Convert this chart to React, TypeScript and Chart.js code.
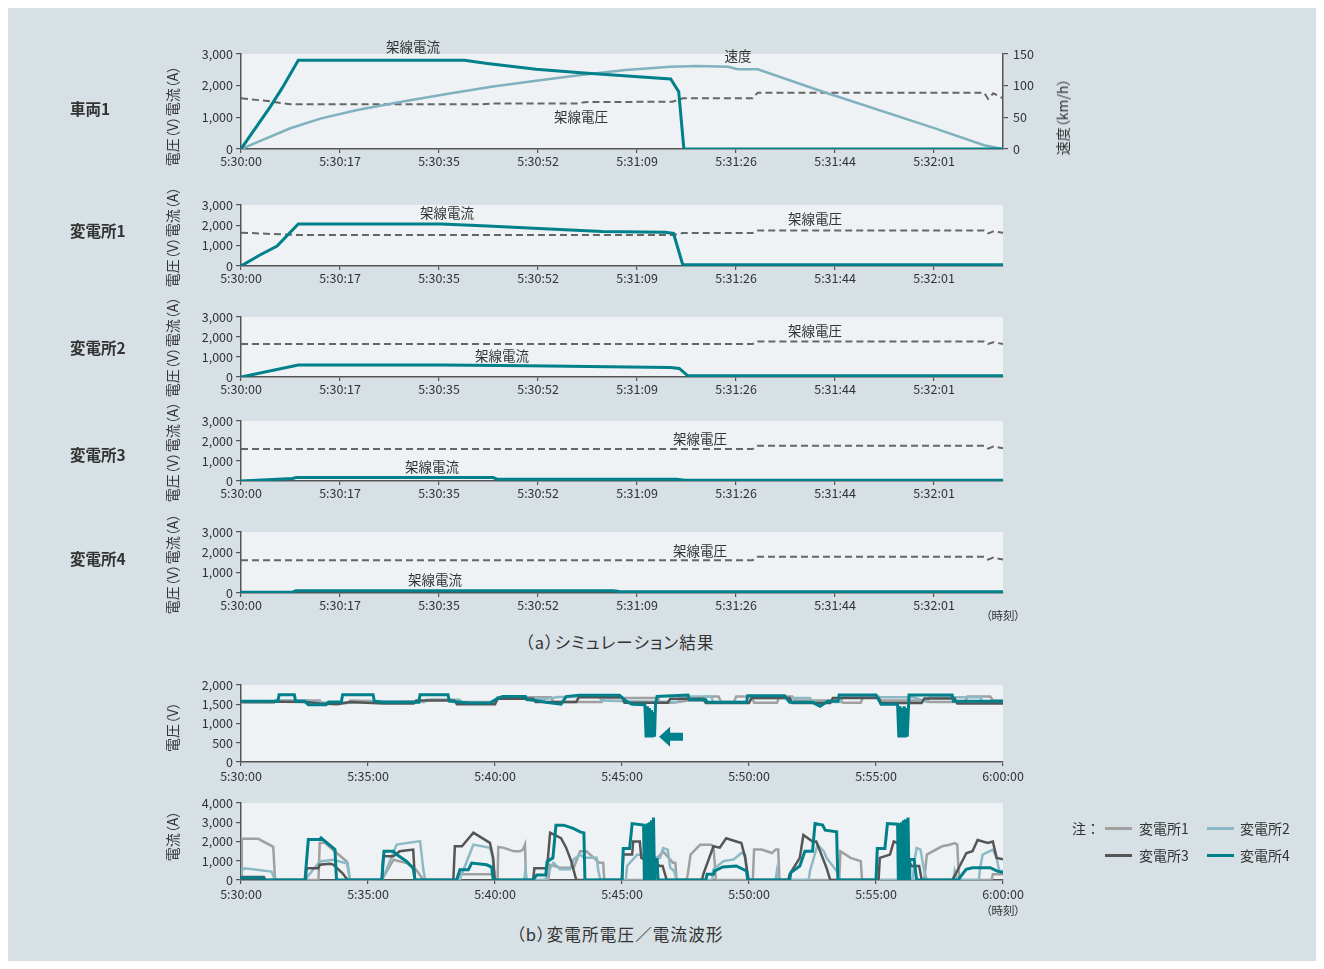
import React, { useEffect, useRef } from 'react';
import { Chart, registerables } from 'chart.js';
Chart.register(...registerables);

const FONT = '"Noto Sans CJK JP", "Noto Sans", sans-serif';
const TEXT = '#333333';
const AXIS = '#555555';
const OUTER_BG = '#d6e0e5';
const PLOT_BG = '#eef2f4';
const TEAL = '#00808a';
const SPEED_C = '#80b1bf';
const VOLT_C = '#666666';
const SS1_C = '#a0a0a0';
const SS2_C = '#8cb9c5';
const SS3_C = '#555555';
const SS4_C = TEAL;

type Pt = [number, number];

// ---- (a) simulation: x in seconds from 5:30:00 ----
const simTickSec = [0, 17.28, 34.56, 51.84, 69.12, 86.4, 103.68, 120.96];
const simTimeLabels = ['5:30:00', '5:30:17', '5:30:35', '5:30:52', '5:31:09', '5:31:26', '5:31:44', '5:32:01'];
const SIM_MAX = 133;

const vehicleCurrent: Pt[] = [[0, 0], [5.1, 1330], [7.2, 1930], [10, 2800], [39, 2800], [43, 2700], [51.5, 2520], [59.3, 2410], [68.7, 2290], [75, 2210], [76.4, 1810], [77.3, 0], [133, 0]];
const vehicleSpeed: Pt[] = [[0, 0], [8.6, 32.7], [14, 48.4], [20.3, 61.6], [28, 74.7], [35.9, 86.8], [43.7, 98.4], [51.5, 107.9], [59.3, 116.8], [67.1, 124.7], [75, 130], [79.6, 131], [85, 130], [86.7, 126], [90.2, 126], [101.7, 90], [121, 33], [129.7, 6], [133, 0]];
const vehicleVoltage: Pt[] = [[0, 1600], [4.7, 1515], [8.6, 1410], [42, 1410], [44, 1440], [59, 1440], [60, 1480], [75.3, 1494], [77.1, 1600], [89.3, 1600], [90.2, 1778], [129.7, 1778], [130.4, 1580], [131.3, 1760], [133, 1600]];

const ss1Current: Pt[] = [[0, 0], [3.3, 540], [6.3, 980], [10, 2070], [35, 2070], [43, 1970], [52, 1850], [63, 1700], [74, 1660], [75.5, 1600], [77.1, 60], [133, 60]];
const ss1Voltage: Pt[] = [[0, 1640], [10, 1520], [75.3, 1520], [77.1, 1620], [89.3, 1620], [90.2, 1740], [129.7, 1740], [130.4, 1600], [131.3, 1700], [133, 1640]];

const ss2Current: Pt[] = [[0, 0], [10, 600], [35, 600], [50, 560], [75, 480], [76.5, 430], [78, 60], [133, 60]];
const ss2Voltage: Pt[] = [[0, 1650], [89.3, 1650], [90.2, 1780], [129.7, 1780], [130.4, 1650], [131.3, 1740], [133, 1650]];

const ss3Current: Pt[] = [[0, 0], [9, 130], [9.6, 170], [44, 170], [44.7, 90], [76, 90], [77.5, 40], [133, 40]];
const ss3Voltage: Pt[] = [[0, 1600], [89.3, 1600], [90.2, 1765], [129.7, 1765], [130.4, 1620], [131.3, 1720], [133, 1640]];

const ss4Current: Pt[] = [[0, 40], [9, 40], [9.6, 110], [65, 110], [66, 70], [133, 60]];
const ss4Voltage: Pt[] = [[0, 1616], [89.3, 1616], [90.2, 1783], [129.7, 1783], [130.4, 1640], [131.3, 1740], [133, 1650]];

// ---- (b) measured waveforms: x in minutes from 5:30:00 ----
const dayTimeLabels = ['5:30:00', '5:35:00', '5:40:00', '5:45:00', '5:50:00', '5:55:00', '6:00:00'];

const wSs1Voltage: Pt[] = [[0, 1540], [1.3, 1540], [1.35, 1600], [3.1, 1600], [3.15, 1530], [4.2, 1530], [4.3, 1600], [5.6, 1580], [7.2, 1580], [7.5, 1620], [8.3, 1620], [8.5, 1560], [10.0, 1560], [10.1, 1680], [12.2, 1680], [12.3, 1560], [14.2, 1560], [14.3, 1660], [16.4, 1660], [16.5, 1540], [17.0, 1540], [17.6, 1600], [18.2, 1600], [18.3, 1700], [18.8, 1700], [18.9, 1560], [19.4, 1560], [19.5, 1700], [20.1, 1700], [20.2, 1540], [21.1, 1540], [21.2, 1700], [21.7, 1700], [21.8, 1600], [23.6, 1600], [23.7, 1540], [24.4, 1540], [24.5, 1700], [25.1, 1700], [25.2, 1600], [27.0, 1600], [27.1, 1560], [28.5, 1560], [28.6, 1700], [29.5, 1700], [29.6, 1600], [30, 1600]];
const wSs2Voltage: Pt[] = [[0, 1570], [1.3, 1570], [1.35, 1600], [2.6, 1600], [3.1, 1540], [4.3, 1540], [5.6, 1580], [7.2, 1560], [7.3, 1620], [8.6, 1620], [8.7, 1540], [10.0, 1540], [10.1, 1640], [12.0, 1640], [12.5, 1690], [14.1, 1690], [14.2, 1600], [15.2, 1580], [17.2, 1560], [17.3, 1700], [18.5, 1700], [18.6, 1560], [20.0, 1560], [20.1, 1660], [22.4, 1660], [22.5, 1560], [23.6, 1560], [23.7, 1680], [26.5, 1680], [27.0, 1560], [27.1, 1680], [29.1, 1680], [29.2, 1560], [30, 1560]];
const wSs3Voltage: Pt[] = [[0, 1580], [2.6, 1560], [3.1, 1520], [3.8, 1500], [4.3, 1560], [5.6, 1520], [6.8, 1520], [6.9, 1600], [8.4, 1600], [8.5, 1500], [10.0, 1500], [10.1, 1640], [11.5, 1640], [11.6, 1560], [13.2, 1560], [13.3, 1680], [15.0, 1680], [15.1, 1540], [16.8, 1540], [16.9, 1640], [18.2, 1640], [18.3, 1530], [20.0, 1530], [20.1, 1660], [21.6, 1660], [21.7, 1530], [23.2, 1530], [23.3, 1660], [25.1, 1660], [25.2, 1530], [26.8, 1530], [26.9, 1650], [28.1, 1650], [28.2, 1520], [30, 1520]];
const wSs4Voltage: Pt[] = [[0, 1580], [1.45, 1580], [1.5, 1750], [2.1, 1750], [2.15, 1580], [2.5, 1580], [2.65, 1490], [3.35, 1490], [3.45, 1560], [3.95, 1560], [4.0, 1750], [5.2, 1750], [5.25, 1580], [5.6, 1550], [7.0, 1550], [7.05, 1750], [8.15, 1750], [8.2, 1580], [9.0, 1530], [9.8, 1530], [10.1, 1650], [10.3, 1700], [11.2, 1700], [11.25, 1620], [11.6, 1600], [12.0, 1550], [12.6, 1500], [12.8, 1700], [13.3, 1737], [14.9, 1737], [15.2, 1560], [15.4, 1500], [15.9, 1490], [15.95, 640], [16.0, 1450], [16.04, 640], [16.08, 1400], [16.12, 640], [16.16, 1350], [16.2, 640], [16.24, 1300], [16.28, 660], [16.32, 1500], [16.38, 1700], [17.6, 1740], [17.65, 1620], [18.3, 1620], [18.35, 1550], [19.9, 1550], [19.95, 1720], [21.4, 1720], [21.6, 1550], [22.5, 1550], [22.8, 1450], [23.1, 1580], [23.5, 1580], [23.55, 1740], [25.0, 1740], [25.2, 1500], [25.85, 1500], [25.9, 640], [25.95, 1450], [25.99, 640], [26.03, 1400], [26.07, 640], [26.11, 1450], [26.15, 640], [26.19, 1400], [26.23, 660], [26.3, 1740], [28.0, 1740], [28.05, 1580], [30, 1580]];

const wSs1Current: Pt[] = [[0, 0], [0.03, 2140], [0.68, 2140], [1.27, 1720], [1.34, 0], [3.05, 0], [3.1, 1930], [3.3, 1930], [4.16, 960], [4.29, 0], [5.55, 0], [5.6, 140], [6.0, 1050], [6.52, 880], [6.9, 530], [7.18, 0], [8.5, 0], [8.55, 300], [9.9, 300], [9.95, 0], [10.1, 0], [10.13, 1720], [10.35, 1670], [10.75, 1490], [10.98, 1490], [11.1, 1580], [11.18, 1840], [11.22, 0], [12.1, 0], [12.17, 790], [12.56, 640], [13.1, 640], [13.35, 1490], [13.6, 1490], [14.1, 900], [14.26, 900], [14.3, 0], [16.35, 0], [16.4, 1150], [16.62, 1490], [17.0, 900], [17.1, 900], [17.15, 0], [17.55, 0], [17.6, 390], [17.7, 1320], [18.07, 1830], [18.5, 1830], [18.6, 1750], [18.7, 0], [20.15, 0], [20.2, 1580], [20.5, 1580], [20.9, 1400], [21.05, 1580], [21.15, 1580], [21.2, 0], [23.55, 0], [23.6, 1490], [24.0, 1150], [24.4, 980], [24.45, 0], [26.9, 0], [27.0, 1320], [27.6, 1750], [27.9, 1830], [28.1, 1920], [28.2, 1830], [28.25, 470], [28.3, 0], [29.55, 0], [29.6, 300], [30, 300]];
const wSs2Current: Pt[] = [[0, 0], [0.05, 530], [0.15, 610], [1.2, 440], [1.34, 0], [2.58, 0], [2.6, 140], [3.1, 960], [3.63, 1050], [4.09, 880], [4.2, 880], [4.29, 0], [5.55, 0], [5.6, 140], [6.13, 1840], [7.05, 2020], [7.18, 530], [7.25, 0], [8.62, 0], [8.65, 170], [9.15, 1840], [9.8, 1670], [9.9, 1200], [10.0, 0], [11.15, 0], [11.2, 530], [11.25, 0], [12.0, 0], [12.03, 260], [12.3, 900], [12.56, 560], [12.95, 560], [13.1, 1070], [13.35, 1320], [13.5, 1150], [14.0, 1150], [14.07, 470], [14.15, 0], [15.15, 0], [15.2, 730], [15.6, 1320], [16.5, 1150], [16.62, 1660], [16.8, 1580], [16.9, 640], [17.05, 470], [17.15, 0], [18.55, 0], [18.6, 560], [19.0, 980], [19.4, 1070], [19.7, 1400], [19.85, 1320], [19.9, 560], [20.0, 0], [21.05, 0], [21.1, 470], [21.15, 0], [22.35, 0], [22.4, 470], [22.7, 1830], [22.95, 1490], [23.05, 1150], [23.3, 730], [23.45, 470], [23.6, 0], [26.45, 0], [26.5, 900], [26.6, 1660], [26.75, 1580], [26.9, 470], [27.0, 0], [28.05, 0], [28.1, 470], [28.2, 0], [29.05, 0], [29.1, 640], [29.2, 1320], [29.6, 1580], [29.75, 1150], [29.85, 470], [30, 470]];
const wSs3Current: Pt[] = [[0, 0], [0.05, 150], [0.9, 150], [0.95, 0], [2.55, 0], [2.58, 610], [3.04, 610], [3.1, 790], [3.5, 840], [3.63, 800], [4.0, 350], [4.2, 0], [5.55, 0], [5.6, 1230], [6.0, 1230], [6.25, 1490], [6.78, 1580], [6.85, 0], [8.36, 0], [8.42, 1750], [8.7, 1750], [9.15, 2460], [9.8, 1930], [9.93, 1140], [9.99, 0], [11.5, 0], [11.55, 610], [12.05, 610], [12.17, 2460], [12.6, 2170], [12.8, 1680], [13.0, 980], [13.2, 0], [15.0, 0], [15.05, 1320], [15.4, 1320], [15.44, 2000], [15.7, 2000], [15.76, 1150], [16.5, 730], [16.6, 730], [16.76, 0], [18.15, 0], [18.2, 300], [18.6, 1750], [18.85, 1680], [19.1, 2170], [19.5, 2000], [19.7, 1920], [19.85, 1150], [19.98, 0], [21.55, 0], [21.6, 300], [22.0, 1150], [22.14, 2340], [22.5, 2000], [22.65, 2000], [22.9, 1150], [23.05, 640], [23.2, 0], [25.1, 0], [25.15, 1150], [25.55, 1320], [25.7, 2000], [25.85, 1920], [26.4, 730], [26.7, 730], [26.8, 0], [28.0, 0], [28.1, 220], [28.56, 1400], [28.8, 1490], [29.0, 2080], [29.4, 1920], [29.6, 2000], [29.75, 1150], [30, 1070]];
const wSs4Current: Pt[] = [[0, 0], [0.05, 120], [0.8, 120], [0.88, 0], [2.52, 0], [2.65, 2100], [3.1, 2100], [3.15, 2190], [3.7, 1580], [3.76, 0], [5.54, 0], [5.63, 1490], [6.0, 1490], [6.13, 1320], [6.52, 960], [6.78, 610], [6.85, 0], [8.49, 0], [8.62, 530], [8.95, 530], [9.08, 880], [9.67, 790], [9.87, 670], [9.93, 0], [11.5, 0], [11.64, 260], [12.0, 260], [12.05, 950], [12.28, 1150], [12.4, 2850], [12.7, 2850], [13.08, 2680], [13.35, 2500], [13.5, 2450], [13.54, 0], [15.0, 0], [15.05, 1630], [15.3, 1630], [15.4, 2930], [15.85, 2850], [15.88, 0], [15.92, 2900], [15.96, 0], [16.0, 2950], [16.04, 0], [16.08, 3000], [16.12, 0], [16.16, 3100], [16.2, 0], [16.24, 3250], [16.28, 0], [16.3, 1070], [16.38, 1070], [16.42, 0], [18.3, 0], [18.35, 300], [18.6, 300], [18.65, 470], [18.97, 680], [19.5, 730], [19.9, 470], [19.95, 0], [21.6, 0], [21.65, 390], [22.0, 730], [22.2, 1490], [22.5, 1490], [22.6, 2930], [22.9, 2850], [23.0, 2590], [23.45, 2500], [23.5, 0], [25.0, 0], [25.05, 1630], [25.35, 1630], [25.45, 2930], [25.85, 2900], [25.88, 0], [25.92, 2950], [25.96, 0], [26.0, 3000], [26.04, 0], [26.08, 3100], [26.12, 0], [26.16, 3150], [26.2, 0], [26.26, 3250], [26.3, 0], [26.33, 1070], [26.5, 1070], [26.6, 0], [28.25, 0], [28.3, 130], [28.55, 560], [28.8, 640], [29.5, 640], [29.75, 470], [30, 390]];

const arrowTip: Pt = [16.46, 657];
const arrowTailX = 17.4;

// ---- layout ----
const CANVAS_W = 1324;
const PAD_LEFT = 150;
const Y_AXIS_W = 91;
const RIGHT_AXIS_W = 40;
const PLOT_RIGHT = 1003;
const PAD_TOP = 14;
const X_AXIS_H = 24;

const toXY = (a: Pt[]) => a.map(([x, y]) => ({ x, y }));
const fmt = (v: number) => Number(v).toLocaleString('en-US');

const plotBg = {
  id: 'plotBg',
  beforeDraw(chart: any) {
    const { ctx, chartArea } = chart;
    ctx.save();
    ctx.fillStyle = PLOT_BG;
    ctx.fillRect(chartArea.left, chartArea.top, chartArea.right - chartArea.left, chartArea.bottom - chartArea.top);
    ctx.restore();
  },
};

const arrowPlugin = {
  id: 'arrowMark',
  afterDatasetsDraw(chart: any) {
    const { ctx, scales } = chart;
    const tx = scales.x.getPixelForValue(arrowTip[0]);
    const ty = scales.y.getPixelForValue(arrowTip[1]);
    const ex = scales.x.getPixelForValue(arrowTailX);
    ctx.save();
    ctx.fillStyle = TEAL;
    ctx.beginPath();
    ctx.moveTo(tx, ty);
    ctx.lineTo(tx + 11, ty - 10);
    ctx.lineTo(tx + 11, ty - 4);
    ctx.lineTo(ex, ty - 4);
    ctx.lineTo(ex, ty + 4);
    ctx.lineTo(tx + 11, ty + 4);
    ctx.lineTo(tx + 11, ty + 10);
    ctx.closePath();
    ctx.fill();
    ctx.restore();
  },
};

const tickFont = { family: FONT, size: 12.5 };

function yScale(max: number, step: number) {
  return {
    type: 'linear',
    position: 'left',
    min: 0,
    max,
    ticks: { stepSize: step, color: TEXT, font: tickFont, padding: 3, callback: (v: any) => fmt(v) },
    grid: { drawOnChartArea: false, drawTicks: true, tickLength: 5, color: AXIS, lineWidth: 1.2 },
    border: { display: true, color: AXIS, width: 1.5 },
    afterFit: (s: any) => { s.width = Y_AXIS_W; },
  };
}

function simXScale() {
  return {
    type: 'linear',
    min: 0,
    max: SIM_MAX,
    afterBuildTicks: (s: any) => { s.ticks = simTickSec.map((v) => ({ value: v })); },
    ticks: { autoSkip: false, maxRotation: 0, padding: 1, color: TEXT, font: tickFont, callback: (_v: any, i: number) => simTimeLabels[i] },
    grid: { drawOnChartArea: false, drawTicks: true, tickLength: 4, color: AXIS, lineWidth: 1.2 },
    border: { display: true, color: AXIS, width: 1.5 },
    afterFit: (s: any) => { s.height = X_AXIS_H; },
  };
}

function dayXScale() {
  return {
    type: 'linear',
    min: 0,
    max: 30,
    ticks: { stepSize: 5, autoSkip: false, maxRotation: 0, padding: 3, color: TEXT, font: tickFont, callback: (_v: any, i: number) => dayTimeLabels[i] },
    grid: { drawOnChartArea: false, drawTicks: true, tickLength: 4, color: AXIS, lineWidth: 1.2 },
    border: { display: true, color: AXIS, width: 1.5 },
    afterFit: (s: any) => { s.height = X_AXIS_H; },
  };
}

function lineDs(label: string, data: Pt[], color: string, width: number, extra: any = {}) {
  return { label, data: toXY(data), borderColor: color, backgroundColor: color, borderWidth: width, pointRadius: 0, fill: false, tension: 0, ...extra };
}

function baseConfig(datasets: any[], scales: any, right: boolean, plugins: any[] = []) {
  return {
    type: 'line',
    data: { datasets },
    options: {
      responsive: false,
      maintainAspectRatio: false,
      animation: false,
      events: [],
      layout: { padding: { left: PAD_LEFT, right: CANVAS_W - PLOT_RIGHT - (right ? RIGHT_AXIS_W : 0), top: PAD_TOP, bottom: 0 } },
      plugins: { legend: { display: false }, tooltip: { enabled: false }, title: { display: false } },
      scales,
    },
    plugins: [plotBg, ...plugins],
  };
}

function ChartCanvas({ plotTop, plotH, build }: { plotTop: number; plotH: number; build: () => any }) {
  const ref = useRef<HTMLCanvasElement>(null);
  const h = PAD_TOP + plotH + X_AXIS_H;
  useEffect(() => {
    const chart = new Chart(ref.current as HTMLCanvasElement, build());
    return () => chart.destroy();
  }, []);
  return <canvas ref={ref} width={CANVAS_W} height={h} style={{ position: 'absolute', left: 0, top: plotTop - PAD_TOP, width: CANVAS_W, height: h }} />;
}

function vehicleChart() {
  return baseConfig(
    [
      lineDs('架線電流', vehicleCurrent, TEAL, 3, { yAxisID: 'y', order: 0 }),
      lineDs('速度', vehicleSpeed, SPEED_C, 2.5, { yAxisID: 'y1', order: 1 }),
      lineDs('架線電圧', vehicleVoltage, VOLT_C, 2, { yAxisID: 'y', borderDash: [7, 4], order: 2 }),
    ],
    {
      x: simXScale(),
      y: yScale(3000, 1000),
      y1: {
        type: 'linear',
        position: 'right',
        min: 0,
        max: 150,
        ticks: { stepSize: 50, color: TEXT, font: tickFont, padding: 5 },
        grid: { drawOnChartArea: false, drawTicks: true, tickLength: 5, color: AXIS, lineWidth: 1.2 },
        border: { display: true, color: AXIS, width: 1.5 },
        afterFit: (s: any) => { s.width = RIGHT_AXIS_W; },
      },
    },
    true
  );
}

function substationChart(current: Pt[], voltage: Pt[]) {
  return () =>
    baseConfig(
      [
        lineDs('架線電流', current, TEAL, 3, { order: 0 }),
        lineDs('架線電圧', voltage, VOLT_C, 2, { borderDash: [7, 4], order: 1 }),
      ],
      { x: simXScale(), y: yScale(3000, 1000) },
      false
    );
}

function waveChart(series: Pt[][], max: number, step: number, plugins: any[] = []) {
  const names = ['変電所1', '変電所2', '変電所3', '変電所4'];
  const colors = [SS1_C, SS2_C, SS3_C, SS4_C];
  const orders = [3, 2, 1, 0];
  return () =>
    baseConfig(
      series.map((s, i) => lineDs(names[i], s, colors[i], i === 3 ? 3 : 2.5, { order: orders[i] })),
      { x: dayXScale(), y: yScale(max, step) },
      false,
      plugins
    );
}

function Txt({ x, y, children, size = 13.5, bold = false, rot = false, left = false, palt = false, spacing = 0 }: any) {
  return (
    <div
      style={{
        position: 'absolute',
        left: x,
        top: y,
        transform: `translate(${left ? '0' : '-50%'}, -50%)${rot ? ' rotate(-90deg)' : ''}`,
        fontFamily: FONT,
        fontSize: size,
        fontWeight: bold ? 700 : 400,
        color: TEXT,
        whiteSpace: 'nowrap',
        lineHeight: 1,
        letterSpacing: spacing,
        fontFeatureSettings: palt ? '"palt"' : 'normal',
      }}
    >
      {children}
    </div>
  );
}

function LegendLine({ x, y, color }: { x: number; y: number; color: string }) {
  return <div style={{ position: 'absolute', left: x, top: y - 1.5, width: 27, height: 3, background: color }} />;
}

export default function App() {
  const vTitle = '電圧（V）電流（A）';
  return (
    <div style={{ position: 'absolute', left: 0, top: 0, width: 1324, height: 969, background: '#ffffff', overflow: 'hidden' }}>
      <div style={{ position: 'absolute', left: 8, top: 8, width: 1308, height: 953, background: OUTER_BG }} />

      <ChartCanvas plotTop={54} plotH={95} build={vehicleChart} />
      <ChartCanvas plotTop={205} plotH={61} build={substationChart(ss1Current, ss1Voltage)} />
      <ChartCanvas plotTop={317} plotH={60} build={substationChart(ss2Current, ss2Voltage)} />
      <ChartCanvas plotTop={421} plotH={60} build={substationChart(ss3Current, ss3Voltage)} />
      <ChartCanvas plotTop={532} plotH={61} build={substationChart(ss4Current, ss4Voltage)} />
      <ChartCanvas plotTop={685} plotH={77} build={waveChart([wSs1Voltage, wSs2Voltage, wSs3Voltage, wSs4Voltage], 2000, 500, [arrowPlugin])} />
      <ChartCanvas plotTop={803} plotH={77} build={waveChart([wSs1Current, wSs2Current, wSs3Current, wSs4Current], 4000, 1000)} />

      {/* row labels */}
      <Txt x={70} y={109} size={15.5} bold left>車両1</Txt>
      <Txt x={70} y={231} size={15.5} bold left>変電所1</Txt>
      <Txt x={70} y={348} size={15.5} bold left>変電所2</Txt>
      <Txt x={70} y={455} size={15.5} bold left>変電所3</Txt>
      <Txt x={70} y={559} size={15.5} bold left>変電所4</Txt>

      {/* axis titles */}
      <Txt x={172} y={116} size={14} rot palt>{vTitle}</Txt>
      <Txt x={172} y={237} size={14} rot palt>{vTitle}</Txt>
      <Txt x={172} y={347} size={14} rot palt>{vTitle}</Txt>
      <Txt x={172} y={452} size={14} rot palt>{vTitle}</Txt>
      <Txt x={172} y={564} size={14} rot palt>{vTitle}</Txt>
      <Txt x={1062} y={117} size={14} rot palt>速度（km/h）</Txt>
      <Txt x={172} y={727} size={14} rot palt>電圧（V）</Txt>
      <Txt x={172} y={836} size={14} rot palt>電流（A）</Txt>

      {/* in-plot annotations */}
      <Txt x={413} y={47}>架線電流</Txt>
      <Txt x={738} y={56}>速度</Txt>
      <Txt x={581} y={117}>架線電圧</Txt>
      <Txt x={447} y={213}>架線電流</Txt>
      <Txt x={815} y={219}>架線電圧</Txt>
      <Txt x={815} y={331}>架線電圧</Txt>
      <Txt x={502} y={356}>架線電流</Txt>
      <Txt x={700} y={439}>架線電圧</Txt>
      <Txt x={432} y={467}>架線電流</Txt>
      <Txt x={700} y={551}>架線電圧</Txt>
      <Txt x={435} y={580}>架線電流</Txt>

      <Txt x={1003} y={616} size={11.5} palt>（時刻）</Txt>
      <Txt x={1003} y={911} size={11.5} palt>（時刻）</Txt>

      <Txt x={620} y={642} size={16.5} palt spacing={1.2}>（a）シミュレーション結果</Txt>
      <Txt x={620} y={934} size={16.5} palt spacing={1.2}>（b）変電所電圧／電流波形</Txt>

      {/* legend */}
      <Txt x={1072} y={828} size={14} left>注：</Txt>
      <LegendLine x={1105} y={828} color={SS1_C} />
      <Txt x={1139} y={828} size={14} left>変電所1</Txt>
      <LegendLine x={1207} y={828} color={SS2_C} />
      <Txt x={1240} y={828} size={14} left>変電所2</Txt>
      <LegendLine x={1105} y={855} color={SS3_C} />
      <Txt x={1139} y={855} size={14} left>変電所3</Txt>
      <LegendLine x={1207} y={855} color={SS4_C} />
      <Txt x={1240} y={855} size={14} left>変電所4</Txt>
    </div>
  );
}
